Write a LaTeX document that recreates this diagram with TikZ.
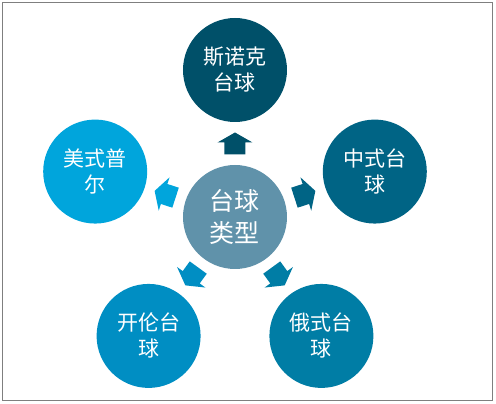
\documentclass[tikz,border=0pt]{standalone}
\usepackage{fontspec}
\newfontfamily\cjk{Noto Sans CJK SC}
\usepackage{xcolor}
\usepackage{tikz}
\usetikzlibrary{calc}
\definecolor{chub}{RGB}{96,146,170}
\definecolor{csnooker}{RGB}{0,80,105}
\definecolor{cchinese}{RGB}{0,100,133}
\definecolor{crussian}{RGB}{0,125,165}
\definecolor{ccarom}{RGB}{0,142,195}
\definecolor{cpool}{RGB}{0,165,220}
\definecolor{frame}{RGB}{127,127,127}

\begin{document}
\begin{tikzpicture}[
    x=1pt, y=1pt,
    typebox/.style={circle, minimum size=104pt, inner sep=0pt, align=center, text=white, font=\cjk\fontsize{21}{26}\selectfont},
    hubbox/.style={typebox, font=\cjk\fontsize{25}{32}\selectfont},
]
    \useasboundingbox (-235,-187) rectangle (261,217);
    \draw[frame, line width=1pt] (-232,-184) rectangle (257,214);

    \node[hubbox, fill=chub] (hub) at (0,0) {台球\\类型};
    \node[typebox, fill=csnooker] (snooker) at (90:147) {斯诺克\\台球};
    \node[typebox, fill=cchinese] (chinese) at (18:147) {中式台\\球};
    \node[typebox, fill=crussian] (russian) at (-54:147) {俄式台\\球};
    \node[typebox, fill=ccarom] (carom) at (-126:147) {开伦台\\球};
    \node[typebox, fill=cpool] (pool) at (162:147) {美式普\\尔};

    % block arrows half way from the hub to each type
    \foreach \target/\ang/\col in {snooker/90/csnooker, chinese/18/cchinese, russian/-54/crussian, carom/-126/ccarom, pool/162/cpool}
        \fill[\col, shift={($(hub)!0.5!(\target)$)}, rotate=\ang]
            (-11,-10.5) -- (1,-10.5) -- (1,-17.5) -- (11,0) -- (1,17.5) -- (1,10.5) -- (-11,10.5) -- cycle;
\end{tikzpicture}
\end{document}
